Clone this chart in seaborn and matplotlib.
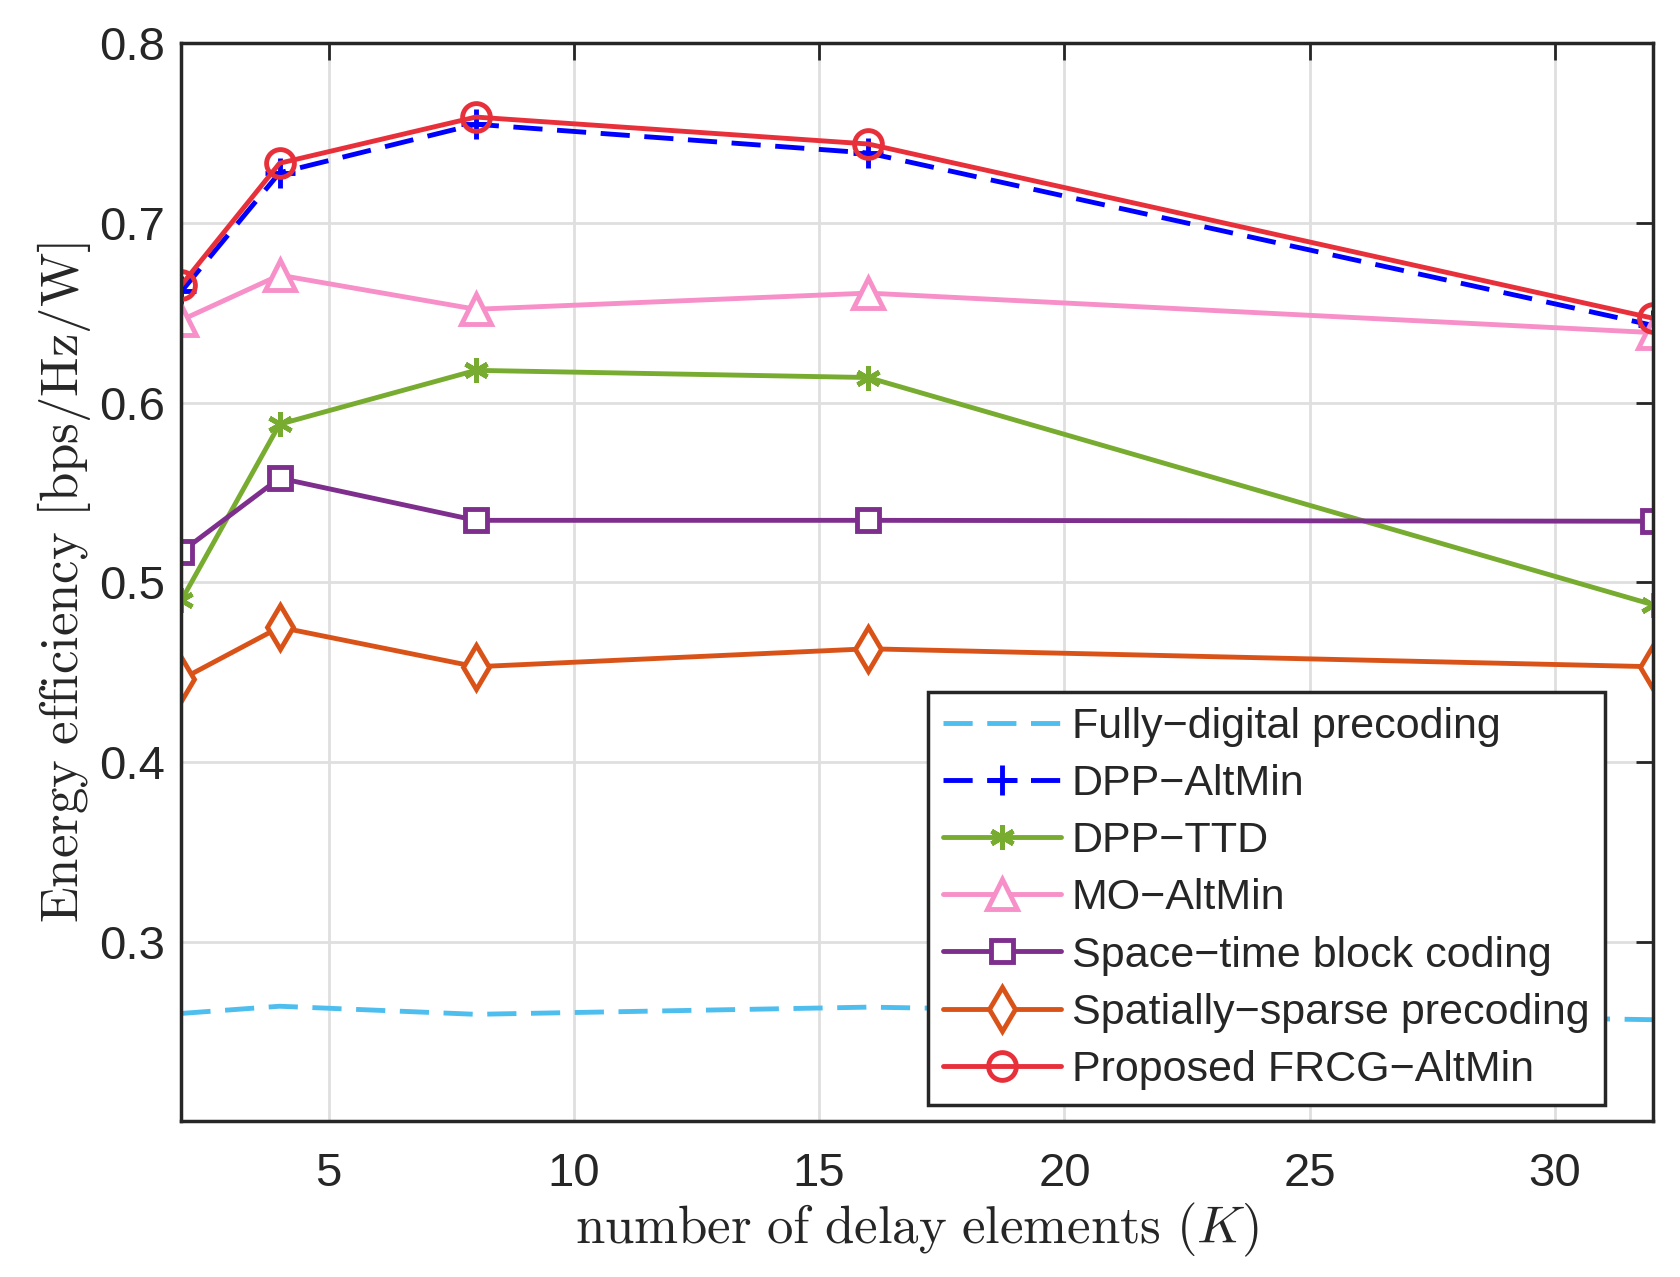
import numpy as np
import pandas as pd
import seaborn as sns
import matplotlib.pyplot as plt

K = [2, 4, 8, 16, 32]
fully_digital = [0.260, 0.264, 0.2595, 0.2635, 0.2565]
dpp_altmin = [0.662, 0.728, 0.755, 0.739, 0.643]
dpp_ttd = [0.490, 0.588, 0.618, 0.614, 0.4875]
mo_altmin = [0.646, 0.671, 0.652, 0.661, 0.639]
stbc = [0.517, 0.558, 0.5345, 0.5345, 0.534]
sparse = [0.446, 0.475, 0.453, 0.463, 0.453]
frcg = [0.6655, 0.7333, 0.759, 0.744, 0.647]

sns.set_theme(style="whitegrid")
plt.rcParams['font.family'] = ['Liberation Sans', 'DejaVu Sans']
plt.rcParams['mathtext.fontset'] = 'cm'

fig, ax = plt.subplots(figsize=(16.8, 12.77), dpi=100)
fig.subplots_adjust(left=0.108, right=0.984, top=0.966, bottom=0.122)

dash = (0, (6, 3))
series = [
    ("Fully\u2212digital precoding", fully_digital, "#4DBEEE", dash, None, {}),
    ("DPP\u2212AltMin", dpp_altmin, "#0000FF", dash, "+", dict(markersize=22, markeredgewidth=3.5)),
    ("DPP\u2212TTD", dpp_ttd, "#77AC30", "-", (6, 2, 0), dict(markersize=18, markeredgewidth=3.5)),
    ("MO\u2212AltMin", mo_altmin, "#F78FC8", "-", "^", dict(markersize=22, markerfacecolor="white", markeredgewidth=3.5)),
    ("Space\u2212time block coding", stbc, "#7E2F8E", "-", "s", dict(markersize=16, markerfacecolor="white", markeredgewidth=3.5)),
    ("Spatially\u2212sparse precoding", sparse, "#D95319", "-", "d", dict(markersize=22, markerfacecolor="white", markeredgewidth=3.5)),
    ("Proposed FRCG\u2212AltMin", frcg, "#E8303A", "-", "o", dict(markersize=20, markerfacecolor="none", markeredgewidth=3.5)),
]

for label, vals, color, ls, marker, mkw in series:
    sns.lineplot(x=K, y=vals, ax=ax, color=color, linestyle=ls, marker=marker,
                 linewidth=3.5, label=label, markeredgecolor=color, **mkw)

ax.set_xlim(2, 32)
ax.set_ylim(0.2, 0.8)
ax.set_xticks([5, 10, 15, 20, 25, 30])
ax.set_yticks([0.3, 0.4, 0.5, 0.6, 0.7, 0.8])
ax.set_yticklabels(["0.3", "0.4", "0.5", "0.6", "0.7", "0.8"])
ax.tick_params(axis='both', labelsize=34, direction='in', length=12, width=2,
               top=True, right=True, colors='#262626')
ax.tick_params(axis='x', pad=22)
ax.tick_params(axis='y', pad=12)
ax.grid(True, color='#DFDFDF', linewidth=2)
for sp in ax.spines.values():
    sp.set_color('#262626')
    sp.set_linewidth(2.5)

ax.set_xlabel(r"$\mathrm{number\ of\ delay\ elements}\ (K)$", fontsize=38, labelpad=4)
ax.set_ylabel(r"$\mathrm{Energy\ efficiency\ [bps/Hz/W]}$", fontsize=38, labelpad=4)

leg = ax.legend(loc='lower right', bbox_to_anchor=(0.967, 0.015), borderaxespad=0,
                fontsize=31, handlelength=2.75, handletextpad=0.25, labelspacing=0.4,
                borderpad=0.35, frameon=True, fancybox=False, edgecolor='#262626')
leg.get_frame().set_linewidth(2.5)
leg.get_frame().set_alpha(1)

fig.savefig("out.png", dpi=100)
